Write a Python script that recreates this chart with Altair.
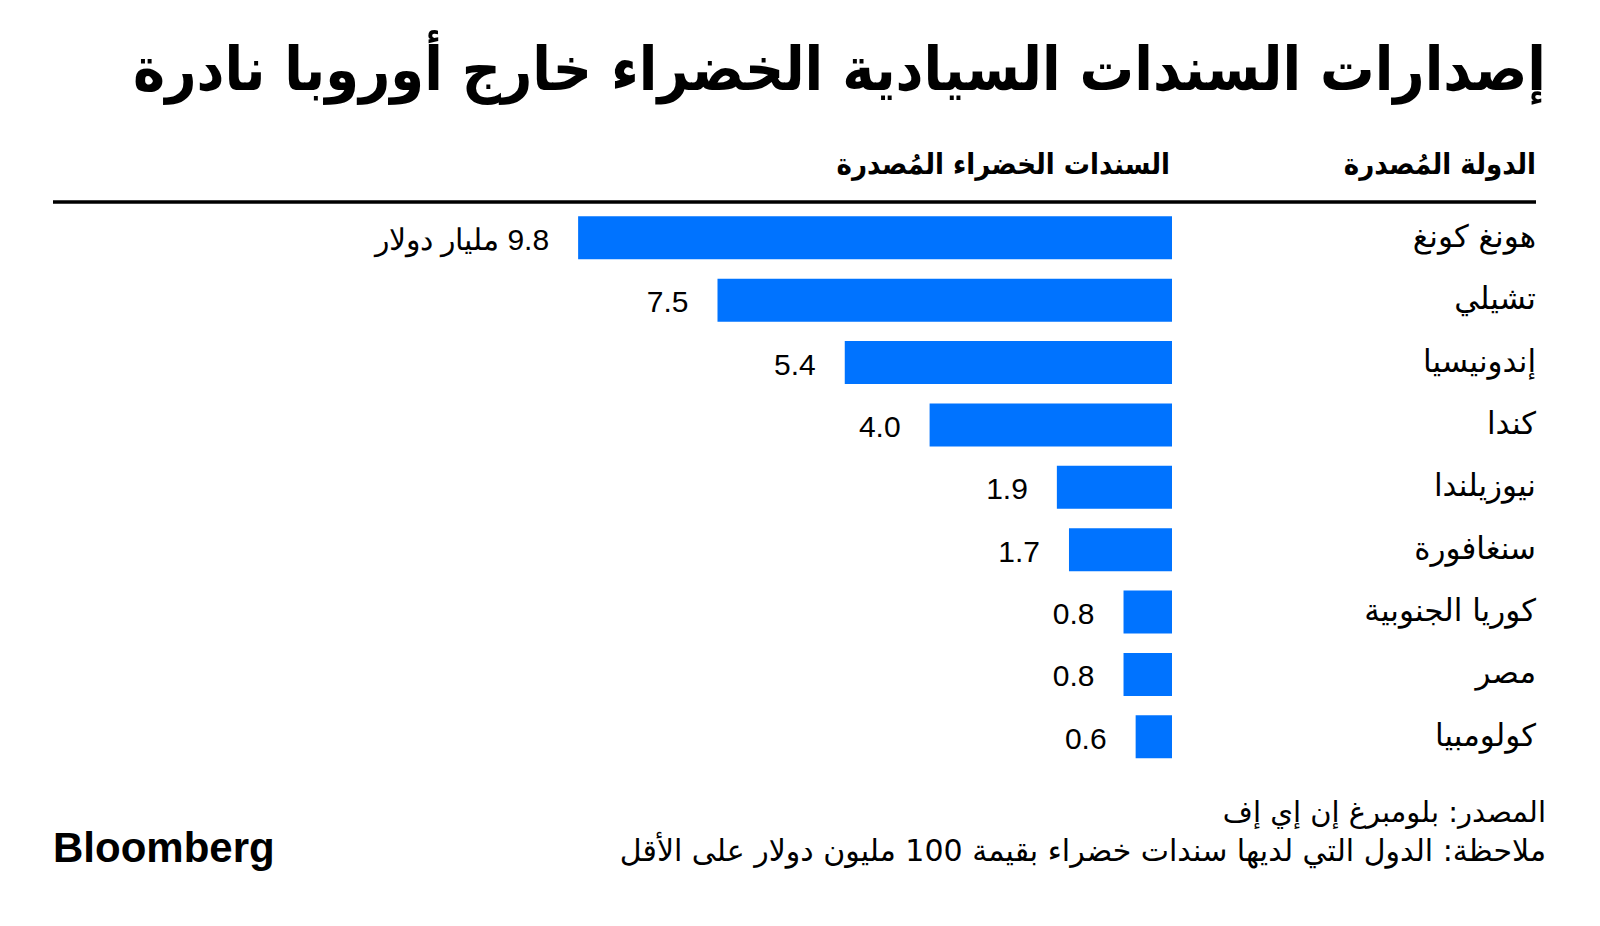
import altair as alt
import pandas as pd

RLE, PDF = "\u202B", "\u202C"

countries = ["هونغ كونغ", "تشيلي", "إندونيسيا", "كندا", "نيوزيلندا", "سنغافورة", "كوريا الجنوبية", "مصر", "كولومبيا"]
values = [9.8, 7.5, 5.4, 4.0, 1.9, 1.7, 0.8, 0.8, 0.6]
value_labels = ["9.8 مليار دولار", "7.5", "5.4", "4.0", "1.9", "1.7", "0.8", "0.8", "0.6"]

title_text = "إصدارات السندات السيادية الخضراء خارج أوروبا نادرة"
header_country = "الدولة المُصدرة"
header_bonds = "السندات الخضراء المُصدرة"
source_text = "المصدر: بلومبرغ إن إي إف"
note_text = "ملاحظة: الدول التي لديها سندات خضراء بقيمة 100 مليون دولار على الأقل"
logo_text = "Bloomberg"

df = pd.DataFrame({
    "country": countries,
    "value": values,
    "label": [RLE + s + PDF for s in value_labels],
    "zero": [0] * len(values),
})

AR_FONT = "DejaVu Sans"
NUM_FONT = "Liberation Sans"
BLUE = "#0073ff"

xscale = alt.Scale(domain=[0, 10], range=[1164, 558])
yscale = alt.Scale(domain=countries, range=[198.6, 760], paddingInner=0.31, paddingOuter=0.155)

base = alt.Chart(df)

bars = base.mark_bar(color=BLUE, cornerRadius=0).encode(
    x=alt.X("value:Q", scale=xscale, axis=None),
    x2="zero:Q",
    y=alt.Y("country:N", scale=yscale, axis=None, sort=countries),
)

vals = base.mark_text(align="right", baseline="middle", dx=-29, dy=3, font=NUM_FONT, fontSize=30, color="#000000").encode(
    x=alt.X("value:Q", scale=xscale, axis=None),
    y=alt.Y("country:N", scale=yscale, axis=None, sort=countries),
    text="label:N",
)

names = base.mark_text(align="right", baseline="middle", font=AR_FONT, fontSize=31, color="#000000").encode(
    x=alt.value(1528),
    y=alt.Y("country:N", scale=yscale, axis=None, sort=countries),
    text="country:N",
)


def annot(text, x, y, size, weight="normal", font=AR_FONT, align="right"):
    d = pd.DataFrame({"t": [RLE + text + PDF if font != NUM_FONT else text]})
    return alt.Chart(d).mark_text(
        align=align, baseline="middle", font=font, fontSize=size, fontWeight=weight, color="#000000"
    ).encode(x=alt.value(x), y=alt.value(y), text="t:N")


title = annot(title_text, 1538, 64, 60.5, "bold", "DejaVu Sans Condensed")
h1 = annot(header_country, 1528, 157, 29, "bold", "DejaVu Sans Condensed")
h2 = annot(header_bonds, 1162, 157, 29, "bold", "DejaVu Sans Condensed")
src = annot(source_text, 1538, 805, 29)
note = annot(note_text, 1538, 844, 30)
logo = annot(logo_text, 45, 841, 42, 900, NUM_FONT, "left")

rule = alt.Chart(pd.DataFrame({"a": [0]})).mark_rule(color="#000000", strokeWidth=3.5).encode(
    x=alt.value(45), x2=alt.value(1528), y=alt.value(194)
)

chart = alt.layer(rule, bars, vals, names, title, h1, h2, src, note, logo).properties(
    width=1584, height=905, padding=0, background="#ffffff",
    autosize=alt.AutoSizeParams(type="none"),
).configure_view(strokeWidth=0)

chart.save("out.html", embed_options={"renderer": "svg", "actions": False})
